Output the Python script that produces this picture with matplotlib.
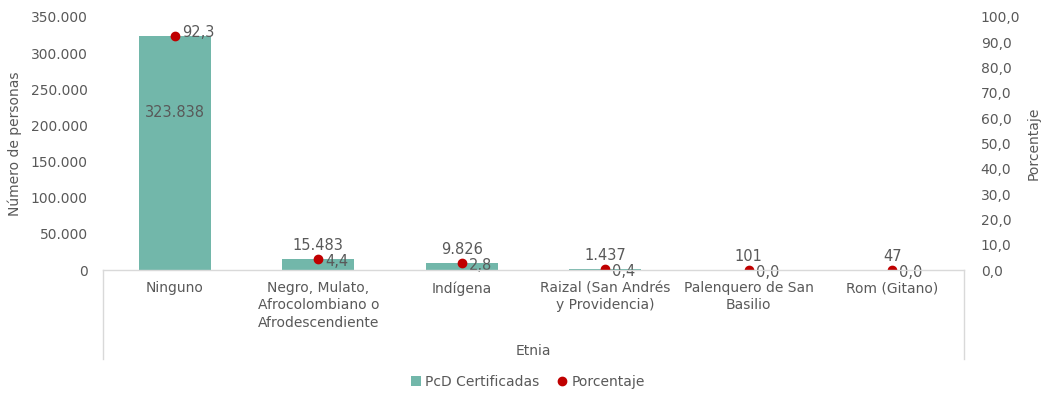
import matplotlib.pyplot as plt
import numpy as np
from matplotlib.ticker import FuncFormatter
from matplotlib.lines import Line2D

plt.rcParams['font.family'] = 'DejaVu Sans'

categorias = ['Ninguno', 'Negro, Mulato,\nAfrocolombiano o\nAfrodescendiente', 'Indígena',
              'Raizal (San Andrés\ny Providencia)', 'Palenquero de San\nBasilio', 'Rom (Gitano)']
personas = [323838, 15483, 9826, 1437, 101, 47]
porcentaje = [92.3, 4.4, 2.8, 0.4, 0.0, 0.0]

verde = '#72B7AA'
rojo = '#C00000'
gris = '#595959'
linea = '#D9D9D9'


def miles(v):
    return f'{int(v):,}'.replace(',', '.')


def decimal(v):
    return f'{v:.1f}'.replace('.', ',')


fig = plt.figure(figsize=(10.42, 3.93), dpi=100)
ax = fig.add_axes([103 / 1042, 1 - 270 / 393, (964 - 103) / 1042, 253 / 393])
ax2 = ax.twinx()

x = np.arange(len(categorias))
ax.bar(x, personas, width=0.5, color=verde, zorder=2, label='PcD Certificadas')
ax2.plot(x, porcentaje, 'o', color=rojo, ms=6, zorder=3, label='Porcentaje')

ax.set_xlim(-0.5, len(categorias) - 0.5)
ax.set_ylim(0, 350000)
ax.set_yticks(np.arange(0, 350001, 50000))
ax.yaxis.set_major_formatter(FuncFormatter(lambda v, p: miles(v)))
ax2.set_ylim(0, 100)
ax2.set_yticks(np.arange(0, 101, 10))
ax2.yaxis.set_major_formatter(FuncFormatter(lambda v, p: decimal(v)))

ax.set_xticks(x)
ax.set_xticklabels(categorias, fontsize=10, color=gris, linespacing=1.3)

for a in (ax, ax2):
    for s in a.spines.values():
        s.set_visible(False)
    a.tick_params(length=0, labelsize=10, labelcolor=gris)
ax.tick_params(axis='x', pad=8)
ax.tick_params(axis='y', pad=11)
ax2.tick_params(axis='y', pad=12)

# eje de categorias: linea base y separadores laterales
y0 = 1 - 270 / 393
y1 = 1 - 359 / 393
xl, xr = 103 / 1042, 964 / 1042
for xs, ys in (([xl, xr], [y0, y0]), ([xl, xl], [y0, y1]), ([xr, xr], [y0, y1])):
    fig.add_artist(Line2D(xs, ys, transform=fig.transFigure, color=linea, lw=1))

ax.set_ylabel('Número de personas', fontsize=10, color=gris, labelpad=6)
ax2.set_ylabel('Porcentaje', fontsize=10, color=gris, labelpad=5)
fig.text((xl + xr) / 2, 1 - 351 / 393, 'Etnia', ha='center', va='center',
         fontsize=10, color=gris)

# etiquetas de datos
for i, v in enumerate(personas):
    if i == 0:
        ax.text(i, 218000, miles(v), ha='center', va='center', fontsize=10.5, color=gris, zorder=4)
    else:
        ax.annotate(miles(v), (i, v), xytext=(0, 4), textcoords='offset points',
                    ha='center', va='bottom', fontsize=10.5, color=gris)
for i, v in enumerate(porcentaje):
    dy = 3 if i == 0 else -2
    ax2.annotate(decimal(v), (i, v), xytext=(5, dy), textcoords='offset points',
                 ha='left', va='center', fontsize=10.5, color=gris, zorder=4)

h1, l1 = ax.get_legend_handles_labels()
h2, l2 = ax2.get_legend_handles_labels()
leg = fig.legend(h1 + h2, l1 + l2, loc='center', bbox_to_anchor=(528 / 1042, 1 - 382 / 393),
                 ncol=2, frameon=False, fontsize=10, handlelength=0.7, handletextpad=0.3,
                 columnspacing=1.3)
for t in leg.get_texts():
    t.set_color(gris)

fig.savefig('out.png', dpi=100)
